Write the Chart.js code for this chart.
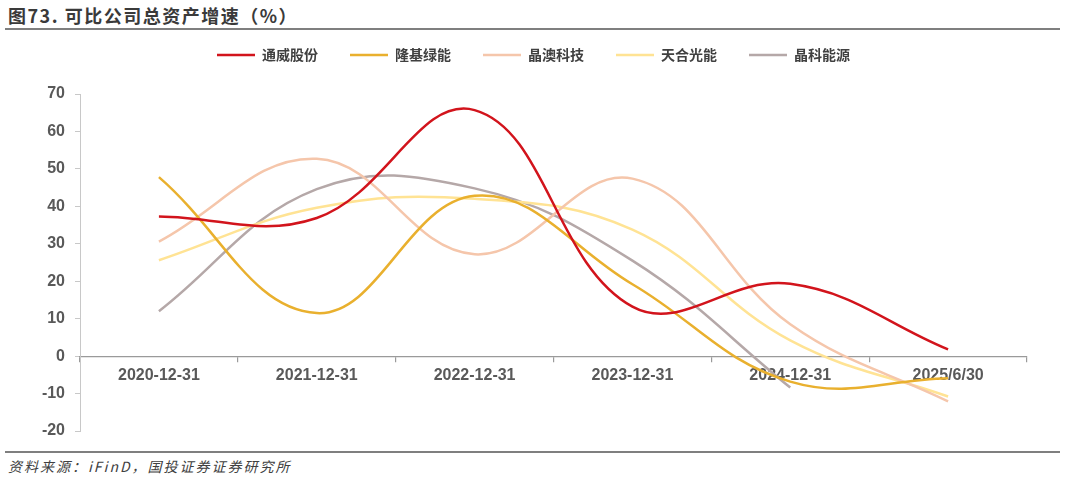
<!DOCTYPE html>
<html>
<head>
<meta charset="utf-8">
<script src="https://cdn.jsdelivr.net/npm/chart.js@4"></script>
<style>
  html, body { margin: 0; padding: 0; background: #fff; }
  #wrap { position: relative; width: 1065px; height: 480px; overflow: hidden; }
  #title { position: absolute; left: 8px; top: 2px; font: bold 18px "Noto Sans CJK SC", sans-serif; color: #3a3a3a; letter-spacing: 1.5px; }
  .rule { position: absolute; left: 5px; width: 1055px; height: 2px; background: #7f7f7f; }
  #source { position: absolute; left: 8px; top: 456px; font: italic 14px "Noto Sans CJK SC", sans-serif; color: #404040; letter-spacing: 2px; }
  canvas { position: absolute; left: 0; top: 0; }
</style>
</head>
<body>
<div id="wrap">
  <div id="title">图73. 可比公司总资产增速（%）</div>
  <div class="rule" style="top:28px"></div>
  <div class="rule" style="top:451px"></div>
  <div id="source">资料来源：iFinD，国投证券证券研究所</div>
  <canvas id="canvas" width="1065" height="480"></canvas>
</div>
<script>
// 期末日期
var labels = ["2020-12-31", "2021-12-31", "2022-12-31", "2023-12-31", "2024-12-31", "2025/6/30"];
var names = ["通威股份", "隆基绿能", "晶澳科技", "天合光能", "晶科能源"];
var colors = ["#D2141C", "#E9B02E", "#F5C6AB", "#FFE394", "#B5A8A8"];

// 总资产增速 %
var tongwei = [37.3, 36.9, 65.7, 13.2, 19.3, 1.8];
var longi = [47.8, 11.5, 42.8, 19.2, -6.8, -5.9];
var jaSolar = [30.6, 52.7, 27.2, 47.4, 8.5, -12.1];
var trina = [25.6, 39.6, 42.0, 33.8, 4.2, -10.8];
var jinko = [12.0, 44.6, 44.8, 25.5, -8.4, null];

var yTicks = [70, 60, 50, 40, 30, 20, 10, 0, -10, -20];

var allSeries = [tongwei, longi, jaSolar, trina, jinko];

var datasets = allSeries.map(function (vals, i) {
    return {
        label: names[i],
        data: vals,
        borderColor: colors[i],
        backgroundColor: colors[i],
        borderWidth: 2.5,
        pointRadius: 0,
        pointHoverRadius: 0,
        tension: 0.4,
        fill: false
    };
});

var tickFont = { family: "'Liberation Sans', Arial, sans-serif", size: 16, weight: 'bold' };

// legend: extra gap under it, and centred on the page instead of the padded box
var legendGap = {
    id: 'legendGap',
    afterInit: function (chart) {
        var lg = chart.legend;
        if (!lg) return;
        var fit = lg.fit;
        lg.fit = function () {
            fit.call(this);
            this.height += 22;
        };
    },
    afterLayout: function (chart) {
        var lg = chart.legend;
        if (!lg) return;
        lg.left += 20;
        lg.right += 20;
    }
};

var ctx = document.getElementById('canvas').getContext('2d');
var myChart = new Chart(ctx, {
    type: 'line',
    data: { labels: labels, datasets: datasets },
    plugins: [legendGap],
    options: {
        responsive: false,
        animation: false,
        devicePixelRatio: 1,
        layout: { padding: { left: 0, right: 38, top: 16, bottom: 49 } },
        scales: {
            x: {
                position: { y: 0 },
                offset: true,
                grid: { offset: true, drawOnChartArea: false, drawTicks: true, tickLength: 5, color: '#9a9a9a', lineWidth: 1.2 },
                border: { display: true, color: '#9a9a9a', width: 1.2 },
                ticks: { color: '#595959', font: tickFont, padding: 5, maxRotation: 0, autoSkip: false }
            },
            y: {
                min: -20,
                max: 70,
                afterFit: function (scale) { scale.width = 80; },
                afterBuildTicks: function (scale) {
                    scale.ticks = yTicks.map(function (v) { return { value: v }; });
                },
                grid: { drawOnChartArea: false, drawTicks: true, tickLength: 5, color: '#c8c8c8' },
                border: { display: true, color: '#c8c8c8' },
                ticks: { color: '#595959', font: tickFont, padding: 10 }
            }
        },
        plugins: {
            legend: {
                display: true,
                position: 'top',
                labels: {
                    usePointStyle: true,
                    pointStyle: 'line',
                    pointStyleWidth: 38,
                    boxHeight: 2,
                    padding: 32,
                    color: '#404040',
                    font: { family: "'Noto Sans CJK SC', sans-serif", size: 14, weight: 'bold' }
                }
            },
            tooltip: { enabled: false }
        }
    }
});
</script>
</body>
</html>
